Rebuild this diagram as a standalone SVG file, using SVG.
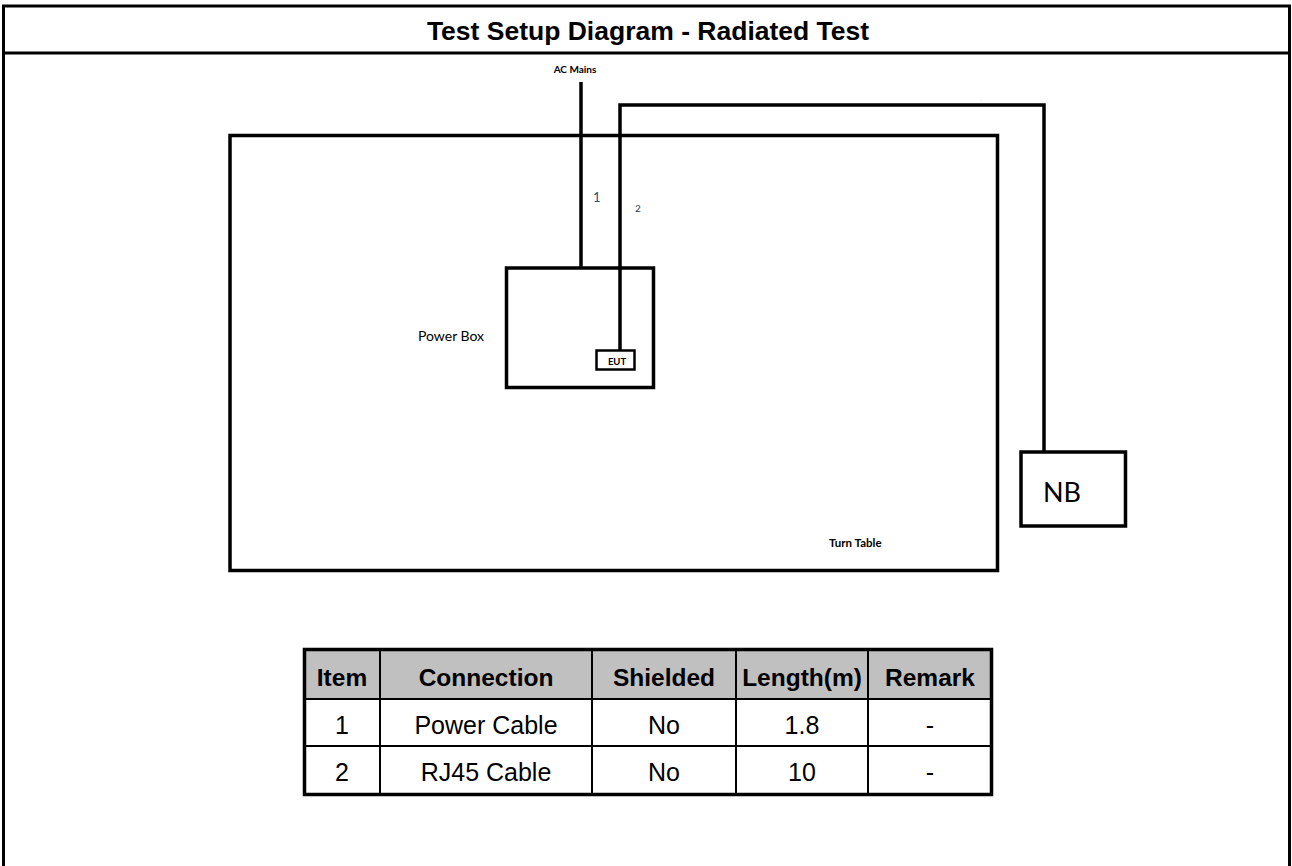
<svg xmlns="http://www.w3.org/2000/svg" width="1292" height="866" viewBox="0 0 1292 866">
<style>
.ln{stroke:#000;stroke-width:3.5;fill:none}
.box{stroke:#000;stroke-width:3.5;fill:#fff}
.cal{font-family:Lato,"Open Sans","Liberation Sans",sans-serif}
.ar{font-family:"Liberation Sans",Arial,sans-serif}
.th{font-family:"Liberation Sans",Arial,sans-serif;font-weight:bold;font-size:24.5px;text-anchor:middle;fill:#000}
.td{font-family:"Liberation Sans",Arial,sans-serif;font-size:25px;text-anchor:middle;fill:#000}
</style>
<rect width="1292" height="866" fill="#fff"/>
<g id="frame">
<path d="M3.5 866 V6 H1289.5 V866" stroke="#000" stroke-width="3" fill="none"/>
<line x1="3" y1="53" x2="1290" y2="53" stroke="#000" stroke-width="3"/>
<text x="648" y="40" class="ar" font-size="26.5" font-weight="bold" text-anchor="middle">Test Setup Diagram - Radiated Test</text>
</g>
<g id="turntable">
<rect x="230" y="135.5" width="767.5" height="435" class="box"/>
<text x="829" y="547" class="cal" font-size="11.5" font-weight="bold">Turn Table</text>
</g>
<g id="connectors">
<line x1="581" y1="82" x2="581" y2="268" class="ln"/>
<polyline points="620,350 620,105 1044,105 1044,452" class="ln"/>
<text x="593" y="202" class="cal" font-size="13" fill="#1f4e79">1</text>
<text x="635" y="212" class="cal" font-size="10" fill="#1f3864">2</text>
<text x="981" y="101" class="cal" font-size="4" fill="#888">.</text>
</g>
<g id="acmains">
<text x="575" y="73" class="cal" font-size="10" font-weight="bold" text-anchor="middle">AC Mains</text>
</g>
<g id="powerbox">
<rect x="506.5" y="268" width="147" height="119.5" stroke="#000" stroke-width="3.5" fill="none"/>
<text x="418" y="341" class="cal" font-size="14">Power Box</text>
</g>
<g id="eut">
<rect x="596.5" y="350.5" width="38" height="19" fill="#fff" stroke="#000" stroke-width="2.5"/>
<text x="617" y="365" class="cal" font-size="9.5" font-weight="bold" text-anchor="middle">EUT</text>
</g>
<g id="nb">
<rect x="1021" y="452" width="104.5" height="74" class="box"/>
<text x="1062" y="502" class="cal" font-size="27" text-anchor="middle">NB</text>
</g>
<g id="table">
<rect x="304.5" y="649.5" width="687" height="145" fill="#fff"/>
<rect x="304.5" y="649.5" width="687" height="49.5" fill="#c0c0c0"/>
<g stroke="#000" stroke-width="2">
<line x1="304" y1="699" x2="992" y2="699"/>
<line x1="304" y1="746" x2="992" y2="746"/>
<line x1="380" y1="649" x2="380" y2="795"/>
<line x1="592" y1="649" x2="592" y2="795"/>
<line x1="736" y1="649" x2="736" y2="795"/>
<line x1="868" y1="649" x2="868" y2="795"/>
</g>
<rect x="304.5" y="649.5" width="687" height="145" fill="none" stroke="#000" stroke-width="3.5"/>
<text x="342" y="686" class="th">Item</text>
<text x="486" y="686" class="th">Connection</text>
<text x="664" y="686" class="th">Shielded</text>
<text x="802" y="686" class="th">Length(m)</text>
<text x="930" y="686" class="th">Remark</text>
<text x="342" y="734" class="td">1</text>
<text x="486" y="734" class="td">Power Cable</text>
<text x="664" y="734" class="td">No</text>
<text x="802" y="734" class="td">1.8</text>
<text x="930" y="734" class="td">-</text>
<text x="342" y="781" class="td">2</text>
<text x="486" y="781" class="td">RJ45 Cable</text>
<text x="664" y="781" class="td">No</text>
<text x="802" y="781" class="td">10</text>
<text x="930" y="781" class="td">-</text>
</g>
</svg>
